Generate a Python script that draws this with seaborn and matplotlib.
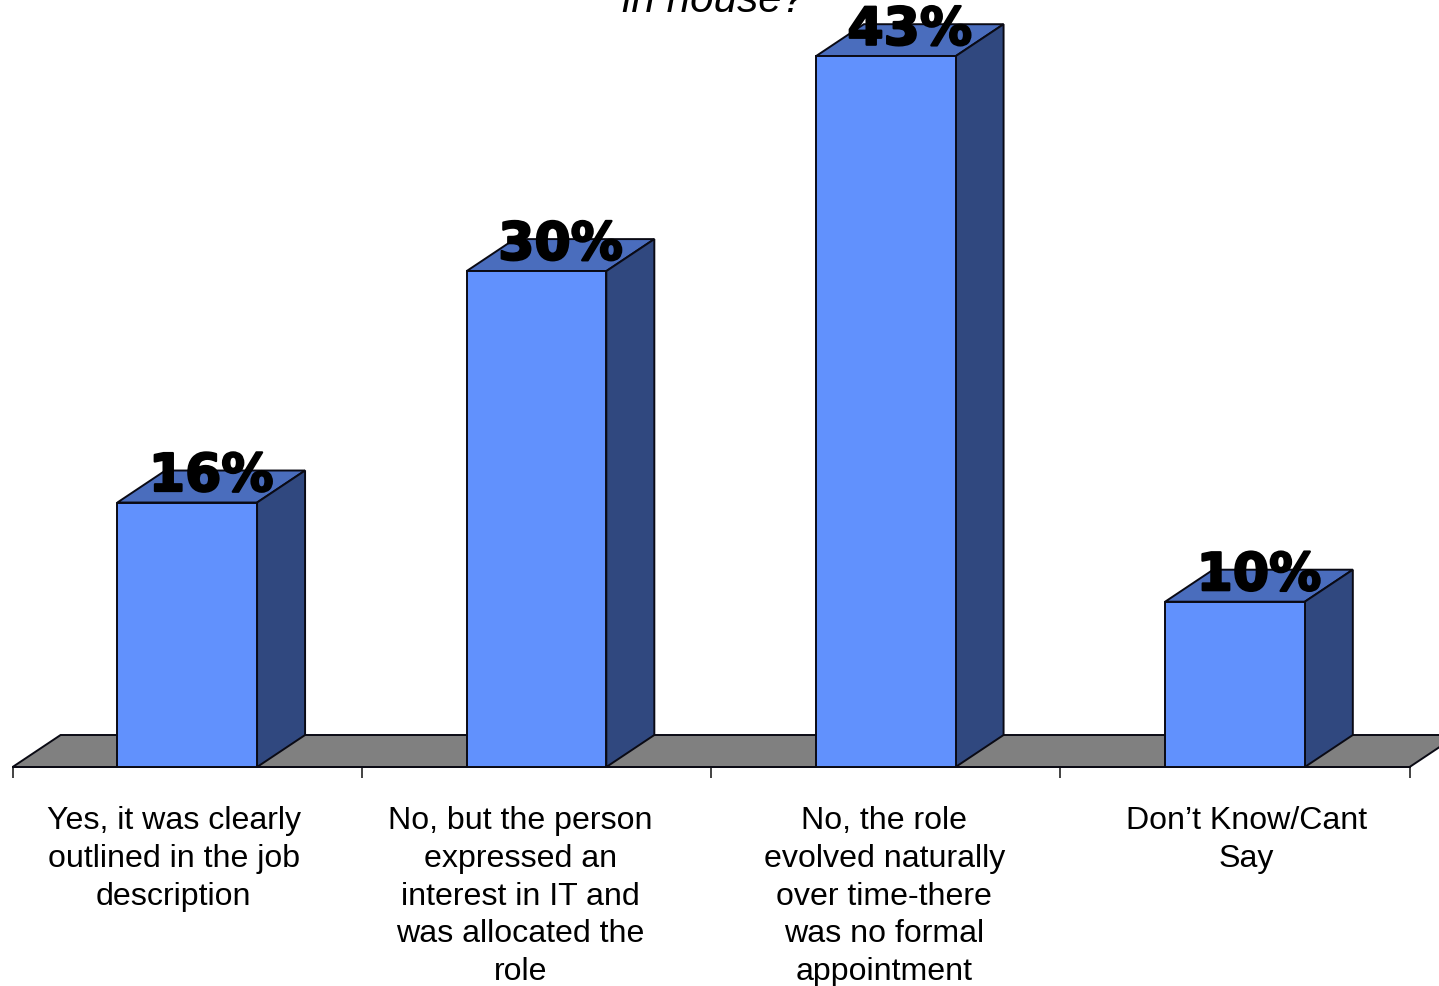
import matplotlib
matplotlib.use("Agg")
import matplotlib.pyplot as plt
import matplotlib.patheffects as pe
from matplotlib.patches import Polygon
import seaborn as sns

categories = [
    "Yes, it was clearly\noutlined in the job\ndescription",
    "No, but the person\nexpressed an\ninterest in IT and\nwas allocated the\nrole",
    "No, the role\nevolved naturally\nover time-there\nwas no formal\nappointment",
    "Don\u2019t Know/Cant\nSay",
]
values = [16, 30, 43, 10]
value_labels = ["16%", "30%", "43%", "10%"]
title_text = "in house?"

W, H = 1439, 986
LEFT, RIGHT, BASE = 12.6, 1409.6, 767
PX_PER_UNIT = 16.53
PX_PER_CAT = (RIGHT - LEFT) / 4
DEPTH_X = 48 / PX_PER_CAT
DEPTH_Y = 32 / PX_PER_UNIT
label_shift_px = [-13.5, -16, -1.5, 11.5]

FRONT, TOP, SIDE, FLOOR = "#6191FD", "#4A6DBD", "#30487F", "#808080"
EDGE = "#0A0A14"
LW = 1.4

sns.set_theme(style="white")
plt.rcParams["font.family"] = ["Liberation Sans", "DejaVu Sans"]

fig = plt.figure(figsize=(W / 100, H / 100), dpi=100, facecolor="white")
ax = fig.add_axes([LEFT / W, (H - BASE) / H, (RIGHT - LEFT) / W, BASE / H])

sns.barplot(x=list(range(4)), y=values, color=FRONT, saturation=1, width=0.4,
            edgecolor=EDGE, linewidth=LW, ax=ax, zorder=3)
ax.set_xlim(-0.5, 3.5)
ax.set_ylim(0, BASE / PX_PER_UNIT)
ax.set_xlabel("")
ax.set_ylabel("")
ax.set_yticks([])
ax.set_xticks([-0.5, 0.5, 1.5, 2.5, 3.5])
ax.set_xticklabels([])
ax.tick_params(axis="x", direction="out", length=8, width=1.2, color="#222222", bottom=True)
for name, spine in ax.spines.items():
    spine.set_visible(name == "bottom")
ax.spines["bottom"].set_color(EDGE)
ax.spines["bottom"].set_linewidth(LW)
ax.patch.set_alpha(0)

# Floor plane behind the columns
ax.add_patch(Polygon([(-0.5, 0), (3.5, 0), (3.5 + DEPTH_X, DEPTH_Y), (-0.5 + DEPTH_X, DEPTH_Y)],
                     closed=True, facecolor=FLOOR, edgecolor=EDGE, linewidth=LW,
                     clip_on=False, zorder=1))

# Top and side faces that give each column its depth
for bar, val, lab, cat, shift in zip(ax.patches[:4], values, value_labels, categories, label_shift_px):
    x0, x1 = bar.get_x(), bar.get_x() + bar.get_width()
    ax.add_patch(Polygon([(x0, val), (x1, val), (x1 + DEPTH_X, val + DEPTH_Y), (x0 + DEPTH_X, val + DEPTH_Y)],
                         closed=True, facecolor=TOP, edgecolor=EDGE, linewidth=LW,
                         clip_on=False, zorder=2.5))
    ax.add_patch(Polygon([(x1, 0), (x1 + DEPTH_X, DEPTH_Y), (x1 + DEPTH_X, val + DEPTH_Y), (x1, val)],
                         closed=True, facecolor=SIDE, edgecolor=EDGE, linewidth=LW,
                         clip_on=False, zorder=2.5))
    centre = (x0 + x1) / 2
    ax.annotate(lab, xy=(centre + DEPTH_X / 2, val), xytext=(0, 11.5), textcoords="offset pixels",
                ha="center", va="baseline", fontsize=37.5, fontweight="bold",
                family="DejaVu Sans", color="black", zorder=6, annotation_clip=False,
                path_effects=[pe.withStroke(linewidth=1.6, foreground="black")])
    ax.annotate(cat, xy=(centre, 0), xytext=(shift, -39), textcoords="offset pixels",
                ha="center", va="top", multialignment="center", fontsize=23.1,
                linespacing=1.34, color="black", annotation_clip=False)

fig.text(713.5 / W, (H - 12.5) / H, title_text, ha="center", va="baseline", fontsize=30.4,
         style="italic", color="black")

fig.savefig("out.png", dpi=100, facecolor="white")
